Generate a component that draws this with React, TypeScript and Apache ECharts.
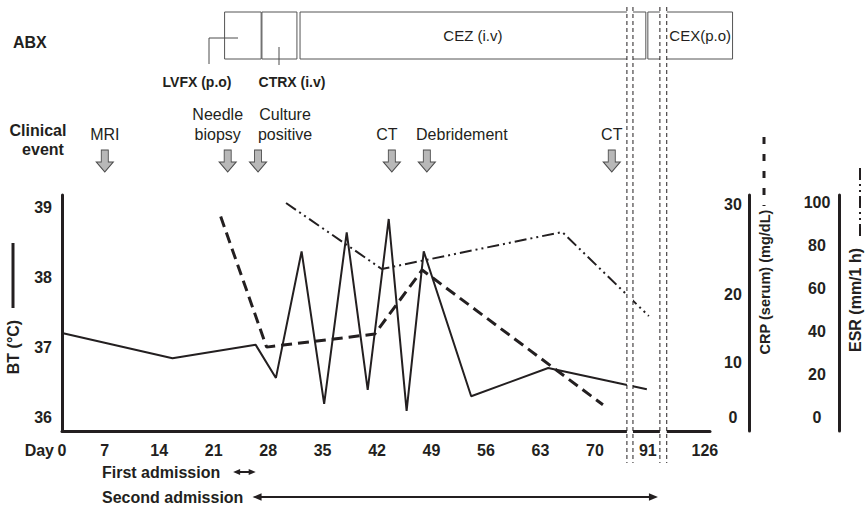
import React, { useEffect, useRef } from "react";
import * as echarts from "echarts";

// ---------- data ----------
const tickDays = [0, 7, 14, 21, 28, 35, 42, 49, 56, 63, 70, 91, 126];
const btTicks = [36, 37, 38, 39];
const crpTicks = [0, 10, 20, 30];
const esrTicks = [0, 20, 40, 60, 80, 100];

const btDays = [0, 15.7, 26.4, 29, 32.3, 35.2, 38.1, 40.8, 43.5, 45.8, 48, 54.1, 64, 90.6];
const btValues = [37.21, 36.85, 37.04, 36.57, 38.37, 36.2, 38.64, 36.4, 38.83, 36.1, 38.37, 36.31, 36.71, 36.41];

const crpDays = [21.9, 27.8, 41.7, 47.8, 73.2];
const crpValues = [28.7, 12.3, 14.2, 22.7, 2.4];

const esrDays = [30.3, 42.6, 65.8, 91.6];
const esrValues = [100, 69.3, 86.5, 47.4];

const abxStart = [22.4, 27.2, 32.1, 91];
const abxEnd = [27.1, 31.7, 90.2, 143];
const abxInner = ["", "", "CEZ (i.v)", "CEX(p.o)"];

const eventNames = ["MRI", "Needle\nbiopsy", "Culture\npositive", "CT", "Debridement", "CT"];
const eventDays = [7, 22.8, 26.7, 43.9, 48.4, 76.7];

const admissionNames = ["First admission", "Second admission"];
const admissionStart = [23.5, 26];
const admissionEnd = [26.4, 97.2];

const breakDays = [
  [82.7, 85.1],
  [98.4, 102.6],
];

// axis scale knots (drawn axis is piecewise: broken after day 70 and 91)
const dayKnots = [0, 7, 70, 91, 126];
const unitKnots = [1.5, 7, 70, 76.81, 84.14];
// CRP axis as drawn (tick spacing uneven)
const crpKnots = [0, 10, 20, 30];
const crpUnitKnots = [0, 7.75, 17.46, 30];

function piecewise(v: number, xs: number[], ys: number[]) {
  let i = 0;
  while (i < xs.length - 2 && v > xs[i + 1]) i++;
  const t = (v - xs[i]) / (xs[i + 1] - xs[i]);
  return ys[i] + t * (ys[i + 1] - ys[i]);
}
const dayToU = (d: number) => piecewise(d, dayKnots, unitKnots);
const crpToU = (c: number) => piecewise(c, crpKnots, crpUnitKnots);

function nearestLabel(v: number, ticks: number[], conv: (n: number) => number) {
  let best = 0;
  let bd = Infinity;
  ticks.forEach((t, i) => {
    const dd = Math.abs(conv(t) - v);
    if (dd < bd) {
      bd = dd;
      best = i;
    }
  });
  return String(ticks[best]);
}

const FONT = '"Liberation Sans", Arial, Helvetica, sans-serif';
const INK = "#231f20";
const eventLabelOffset = [0, -10, 27, -5, 35, 0];
const abxTextOffset = [0, 0, 0, 10];
const admissionArrowLen = [7, 9];

const X_MIN = 1.5;
const X_MAX = 84.8;

export default function App() {
  const ref = useRef<HTMLDivElement>(null);
  useEffect(() => {
    if (!ref.current) return;
    const chart = echarts.init(ref.current, undefined, { renderer: "svg" });

    const hiddenX = (gridIndex: number) => ({
      type: "value",
      gridIndex,
      min: X_MIN,
      max: X_MAX,
      show: false,
    });
    const hiddenY = (gridIndex: number, inverse = false) => ({
      type: "value",
      gridIndex,
      min: 0,
      max: 1,
      show: false,
      inverse,
    });

    const txt = (
      text: string,
      x: number,
      y: number,
      opts: { size?: number; bold?: boolean; align?: string; rotation?: number } = {}
    ) => ({
      type: "text",
      x,
      y,
      rotation: opts.rotation || 0,
      z: 50,
      style: {
        text,
        x: 0,
        y: 0,
        textAlign: opts.align || "center",
        align: opts.align || "center",
        textVerticalAlign: "middle",
        verticalAlign: "middle",
        font: `${opts.bold ? "bold " : ""}${opts.size || 16}px ${FONT}`,
        fill: INK,
      },
    });

    const staticGraphics: any[] = [
      txt("ABX", 13, 42, { bold: true, align: "left" }),
      txt("Clinical", 38, 130, { bold: true }),
      txt("event", 43, 149, { bold: true }),
      txt("LVFX (p.o)", 197, 82, { bold: true, size: 14 }),
      txt("CTRX (i.v)", 292, 82, { bold: true, size: 14 }),
      {
        type: "polyline",
        z: 50,
        shape: { points: [[209, 64], [209, 38], [238, 38]] },
        style: { stroke: "#4d4d4d", lineWidth: 1, fill: null },
      },
      {
        type: "line",
        z: 50,
        shape: { x1: 279, y1: 47, x2: 279, y2: 65 },
        style: { stroke: "#4d4d4d", lineWidth: 1 },
      },
      txt("BT (°C)", 13, 347, { bold: true, rotation: Math.PI / 2 }),
      {
        type: "line",
        z: 50,
        shape: { x1: 13, y1: 243, x2: 13, y2: 308 },
        style: { stroke: INK, lineWidth: 3 },
      },
      txt("CRP (serum) (mg/dL)", 765, 282, { bold: true, size: 14.5, rotation: Math.PI / 2 }),
      {
        type: "line",
        z: 50,
        shape: { x1: 764, y1: 137, x2: 764, y2: 206 },
        style: { stroke: INK, lineWidth: 3, lineDash: [7, 10] },
      },
      txt("ESR (mm/1 h)", 855, 300, { bold: true, rotation: Math.PI / 2 }),
      {
        type: "line",
        z: 50,
        shape: { x1: 860, y1: 168, x2: 860, y2: 240 },
        style: { stroke: INK, lineWidth: 2, lineDash: [12, 4, 2, 4, 2, 4] },
      },
      txt("Day", 54, 450, { bold: true, align: "right" }),
      txt(admissionNames[0], 102, 472, { bold: true, align: "left" }),
      txt(admissionNames[1], 102, 497, { bold: true, align: "left" }),
    ];

    const option: any = {
      animation: false,
      backgroundColor: "#ffffff",
      textStyle: { fontFamily: FONT },
      grid: [
        { left: 62, right: 155, top: 195, bottom: 76 },
        { left: 62, right: 155, top: 12, height: 47 },
        { left: 62, right: 155, top: 150, height: 22 },
        { left: 62, right: 155, top: 472, height: 25 },
      ],
      xAxis: [
        {
          type: "value",
          gridIndex: 0,
          min: X_MIN,
          max: X_MAX,
          splitLine: { show: false },
          axisTick: { show: false },
          axisLine: { show: true, onZero: false, lineStyle: { color: INK, width: 3 } },
          axisLabel: {
            customValues: tickDays.map(dayToU),
            formatter: (v: number) => nearestLabel(v, tickDays, dayToU),
            fontSize: 16,
            fontWeight: "bold",
            fontFamily: FONT,
            color: INK,
            margin: 11,
          },
        },
        hiddenX(1),
        hiddenX(2),
        hiddenX(3),
      ],
      yAxis: [
        {
          type: "value",
          gridIndex: 0,
          min: 35.815,
          max: 39.171,
          position: "left",
          splitLine: { show: false },
          axisTick: { show: false },
          axisLine: { show: true, onZero: false, lineStyle: { color: INK, width: 3 } },
          axisLabel: {
            customValues: btTicks,
            formatter: (v: number) => nearestLabel(v, btTicks, (n) => n),
            fontSize: 16,
            fontWeight: "bold",
            fontFamily: FONT,
            color: INK,
            margin: 10,
          },
        },
        {
          type: "value",
          gridIndex: 0,
          min: -1.831,
          max: 31.408,
          position: "right",
          offset: 39,
          splitLine: { show: false },
          axisTick: { show: false },
          axisLine: { show: true, onZero: false, lineStyle: { color: INK, width: 3 } },
          axisLabel: {
            inside: true,
            align: "center",
            customValues: crpTicks.map(crpToU),
            formatter: (v: number) => nearestLabel(v, crpTicks, crpToU),
            fontSize: 16,
            fontWeight: "bold",
            fontFamily: FONT,
            color: INK,
            margin: 16,
          },
        },
        {
          type: "value",
          gridIndex: 0,
          min: -6.047,
          max: 103.72,
          position: "right",
          offset: 129,
          splitLine: { show: false },
          axisTick: { show: false },
          axisLine: { show: true, onZero: false, lineStyle: { color: INK, width: 3 } },
          axisLabel: {
            inside: true,
            align: "center",
            customValues: esrTicks,
            formatter: (v: number) => nearestLabel(v, esrTicks, (n) => n),
            fontSize: 16,
            fontWeight: "bold",
            fontFamily: FONT,
            color: INK,
            margin: 22,
          },
        },
        hiddenY(1),
        hiddenY(2),
        hiddenY(3, true),
      ],
      series: [
        {
          name: "BT",
          type: "line",
          xAxisIndex: 0,
          yAxisIndex: 0,
          symbol: "none",
          data: btDays.map((d, i) => [dayToU(d), btValues[i]]),
          lineStyle: { color: INK, width: 2 },
          z: 5,
        },
        {
          name: "CRP",
          type: "line",
          xAxisIndex: 0,
          yAxisIndex: 1,
          symbol: "none",
          data: crpDays.map((d, i) => [dayToU(d), crpToU(crpValues[i])]),
          lineStyle: { color: INK, width: 3, type: [11, 6] },
          z: 4,
        },
        {
          name: "ESR",
          type: "line",
          xAxisIndex: 0,
          yAxisIndex: 2,
          symbol: "none",
          data: esrDays.map((d, i) => [dayToU(d), esrValues[i]]),
          lineStyle: { color: INK, width: 2, type: [12, 4, 2, 4, 2, 4] },
          z: 4,
        },
        {
          name: "ABX",
          type: "custom",
          xAxisIndex: 1,
          yAxisIndex: 3,
          clip: false,
          data: abxStart.map((s, i) => [dayToU(s), dayToU(abxEnd[i]), i]),
          renderItem: (params: any, api: any) => {
            const p0 = api.coord([api.value(0), 1]);
            const p1 = api.coord([api.value(1), 0]);
            const idx = api.value(2);
            const children: any[] = [
              {
                type: "rect",
                shape: { x: p0[0], y: p0[1], width: p1[0] - p0[0], height: p1[1] - p0[1] },
                style: { fill: "#ffffff", stroke: "#555555", lineWidth: 1 },
              },
            ];
            if (abxInner[idx]) {
              children.push({
                type: "text",
                style: {
                  text: abxInner[idx],
                  x: (p0[0] + p1[0]) / 2 + abxTextOffset[idx],
                  y: (p0[1] + p1[1]) / 2,
                  textAlign: "center",
                  align: "center",
                  textVerticalAlign: "middle",
                  verticalAlign: "middle",
                  font: `15px ${FONT}`,
                  fill: INK,
                },
              });
            }
            return { type: "group", children };
          },
        },
        {
          name: "Events",
          type: "scatter",
          xAxisIndex: 2,
          yAxisIndex: 4,
          symbol: "path://M5,0L12,0L12,12L17,12L8.5,22L0,12L5,12Z",
          symbolSize: [17, 22],
          itemStyle: { color: "#b8b8b8", borderColor: "#4d4d4d", borderWidth: 1, opacity: 1 },
          data: eventDays.map((d, i) => ({
            value: [dayToU(d), 0.5],
            label: { offset: [eventLabelOffset[i], 0] },
          })),
          label: {
            show: true,
            position: "top",
            distance: 5,
            formatter: (p: any) => eventNames[p.dataIndex],
            fontSize: 16,
            fontFamily: FONT,
            color: INK,
            lineHeight: 20,
            align: "center",
          },
        },
        {
          name: "Admission",
          type: "custom",
          xAxisIndex: 3,
          yAxisIndex: 5,
          clip: false,
          data: admissionStart.map((s, i) => [dayToU(s), dayToU(admissionEnd[i]), i]),
          renderItem: (params: any, api: any) => {
            const row = api.value(2);
            const a = api.coord([api.value(0), row]);
            const b = api.coord([api.value(1), row]);
            const L = admissionArrowLen[row];
            const h = L * 0.42;
            const y = a[1];
            return {
              type: "group",
              children: [
                {
                  type: "line",
                  shape: { x1: a[0] + L - 1, y1: y, x2: b[0] - L + 1, y2: y },
                  style: { stroke: INK, lineWidth: 2 },
                },
                {
                  type: "polygon",
                  shape: { points: [[a[0], y], [a[0] + L, y - h], [a[0] + L, y + h]] },
                  style: { fill: INK },
                },
                {
                  type: "polygon",
                  shape: { points: [[b[0], y], [b[0] - L, y - h], [b[0] - L, y + h]] },
                  style: { fill: INK },
                },
              ],
            };
          },
        },
      ],
      graphic: staticGraphics,
    };

    chart.setOption(option);

    const breakGraphics: any[] = [];
    breakDays.forEach((b) => {
      const xa = chart.convertToPixel({ xAxisIndex: 0 }, dayToU(b[0])) as number;
      const xb = chart.convertToPixel({ xAxisIndex: 0 }, dayToU(b[1])) as number;
      breakGraphics.push({
        type: "rect",
        z: 100,
        shape: { x: xa, y: 7, width: xb - xa, height: 456 },
        style: { fill: "#ffffff" },
      });
      [xa, xb].forEach((x) =>
        breakGraphics.push({
          type: "line",
          z: 101,
          shape: { x1: x, y1: 7, x2: x, y2: 463 },
          style: { stroke: INK, lineWidth: 1, lineDash: [4, 3] },
        })
      );
    });
    chart.setOption({ graphic: [...staticGraphics, ...breakGraphics] });

    return () => chart.dispose();
  }, []);

  return (
    <div
      ref={ref}
      style={{ position: "fixed", left: 0, top: 0, width: 865, height: 507, background: "#fff" }}
    />
  );
}
